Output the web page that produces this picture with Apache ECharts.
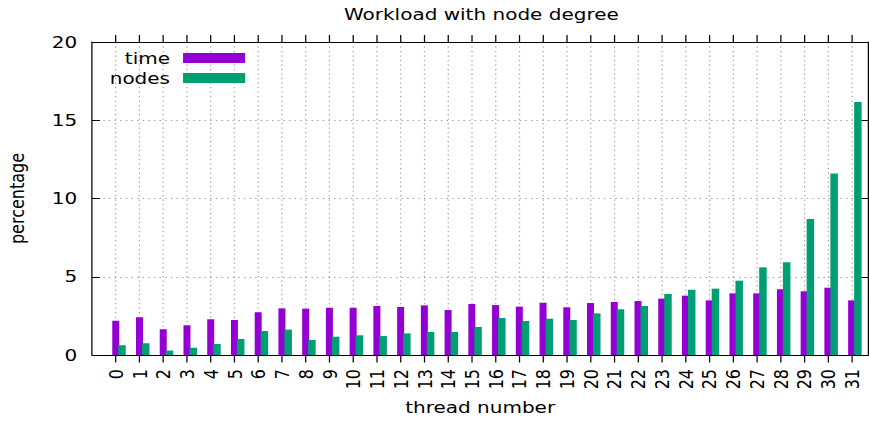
<!DOCTYPE html>
<html>
<head>
<meta charset="utf-8">
<script src="https://cdn.jsdelivr.net/npm/echarts@6/dist/echarts.min.js"></script>
<style>
  html, body { margin: 0; padding: 0; background: #fff; }
  #wrap { width: 869px; height: 423px; overflow: hidden; }
  #main { width: 695px; height: 423px; transform: scaleX(1.25036); transform-origin: 0 0; }
</style>
</head>
<body>
<div id="wrap"><div id="main"></div></div>
<script>
// ---- data ----
const threads = [0,1,2,3,4,5,6,7,8,9,10,11,12,13,14,15,16,17,18,19,20,21,22,23,24,25,26,27,28,29,30,31];
const timePct = [2.19,2.41,1.64,1.90,2.28,2.24,2.73,2.98,2.96,3.02,3.02,3.13,3.07,3.17,2.88,3.26,
                 3.19,3.09,3.34,3.05,3.32,3.39,3.45,3.60,3.79,3.49,3.94,3.94,4.20,4.07,4.30,3.49];
const nodesPct = [0.62,0.75,0.28,0.47,0.70,1.02,1.53,1.62,0.96,1.17,1.26,1.21,1.38,1.47,1.47,1.79,
                  2.36,2.17,2.32,2.24,2.66,2.92,3.13,3.90,4.17,4.24,4.75,5.60,5.92,8.69,11.59,16.17];
const yTicks = [0,5,10,15,20];
const seriesNames = ['time','nodes'];
const titleText = 'Workload with node degree';

// ---- styling ----
const FONT = 'DejaVu Sans';
const COLORS = ['#9400D3', '#009E73'];
const BAR_W = [0.295, 0.316];     // bar widths in axis units
const BAR_OFF = [0.0, 0.263];     // bar centre offsets in axis units

function barRenderer(k) {
  return function (params, api) {
    const x = api.value(0) + BAR_OFF[k];
    const top = api.coord([x, api.value(1)]);
    const base = api.coord([x, 0]);
    const w = api.size([BAR_W[k], 0])[0];
    return {
      type: 'rect',
      shape: { x: top[0] - w / 2, y: top[1], width: w, height: base[1] - top[1] },
      style: { fill: COLORS[k] }
    };
  };
}

const chart = echarts.init(document.getElementById('main'), null, { renderer: 'svg' });
const txt = { fontFamily: FONT, fontSize: 16, color: '#000' };
const blackLine = { show: true, onZero: false, lineStyle: { color: '#000', width: 1 } };

chart.setOption({
  animation: false,
  backgroundColor: '#fff',
  title: {
    text: titleText, left: 380, top: 1, textAlign: 'center',
    textStyle: Object.assign({}, txt, { fontWeight: 'normal' })
  },
  legend: [0, 1].map(k => ({
    data: [seriesNames[k]],
    right: 499, top: 50 + k * 20, padding: 0,
    align: 'right', orient: 'vertical',
    itemWidth: 49.6, itemHeight: 10,
    icon: 'rect',
    textStyle: Object.assign({}, txt, { padding: [0, 5.4, 0, 0] })
  })),
  grid: { left: 73.6, right: 0.6, top: 42, bottom: 68, containLabel: false, outerBoundsMode: 'none' },
  xAxis: [
    {
      type: 'value', position: 'bottom', min: -1, max: 31.7,
      name: 'thread number', nameLocation: 'middle', nameGap: 44,
      nameTextStyle: txt,
      axisLine: blackLine,
      axisTick: { show: true, inside: false, length: 7.5, customValues: threads, lineStyle: { color: '#000' } },
      axisLabel: Object.assign({ rotate: 90, margin: 14, customValues: threads }, txt),
      splitLine: { show: true, lineStyle: { color: '#a0a0a0', type: [1.2, 3.3], width: 1 } }
    },
    {
      type: 'value', position: 'top', min: -1, max: 31.7,
      axisLine: blackLine,
      axisTick: { show: true, inside: false, length: 7, customValues: threads, lineStyle: { color: '#000' } },
      axisLabel: { show: false },
      splitLine: { show: false }
    }
  ],
  yAxis: [
    {
      type: 'value', position: 'left', min: 0, max: 20, interval: 5,
      name: 'percentage', nameLocation: 'middle', nameGap: 52, nameRotate: 90,
      nameTextStyle: txt,
      axisLine: blackLine,
      axisTick: { show: true, inside: true, length: 6.4, customValues: yTicks, lineStyle: { color: '#000' } },
      axisLabel: Object.assign({ margin: 11.8, customValues: yTicks }, txt),
      splitLine: { show: true, lineStyle: { color: '#a0a0a0', type: [1.2, 3.3], width: 1 } }
    },
    {
      type: 'value', position: 'right', min: 0, max: 20, interval: 5,
      axisLine: blackLine,
      axisTick: { show: true, inside: true, length: 6.4, lineStyle: { color: '#000' } },
      axisLabel: { show: false },
      splitLine: { show: false }
    }
  ],
  series: [timePct, nodesPct].map((vals, k) => ({
    type: 'custom',
    name: seriesNames[k],
    xAxisIndex: 0, yAxisIndex: 0,
    itemStyle: { color: COLORS[k] },
    renderItem: barRenderer(k),
    encode: { x: 0, y: 1 },
    clip: true,
    data: threads.map((t, i) => [t, vals[i]])
  }))
});
</script>
</body>
</html>
